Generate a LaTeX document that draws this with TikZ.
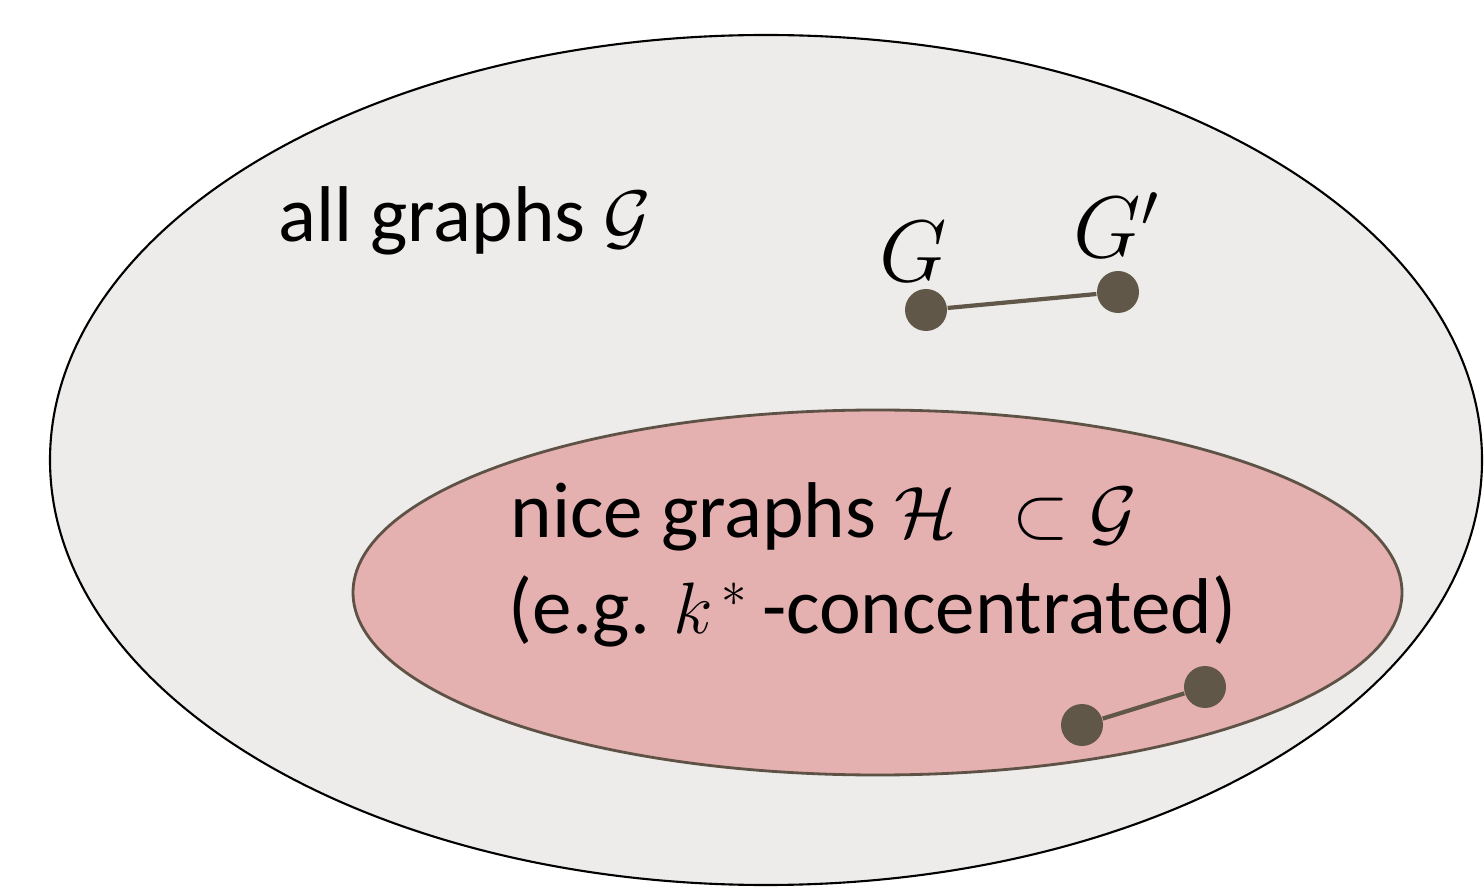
\documentclass[tikz,border=0pt]{standalone}
\usepackage{fontspec}
\setmainfont{Carlito}
\usetikzlibrary{positioning}
\definecolor{mist}{RGB}{237,236,234}
\definecolor{rose}{RGB}{228,176,176}
\definecolor{umber}{RGB}{94,82,70}
\definecolor{pebble}{RGB}{97,87,72}
\tikzset{
  vertex/.style={circle,fill=pebble,inner sep=0pt,minimum size=4.2mm},
  edge/.style={draw=pebble,line width=1.2pt},
  lbl/.style={font=\fontsize{22.5}{27}\selectfont,inner sep=0pt,anchor=base west},
  vlbl/.style={font=\fontsize{24}{29}\selectfont,inner sep=0pt,anchor=base west},
}
\begin{document}
\begin{tikzpicture}
  \useasboundingbox (0,0) rectangle (14.84,8.86);
  % the two sets
  \draw[fill=mist,line width=0.6pt] (7.66,4.26) ellipse [x radius=7.16,y radius=4.25];
  \draw[fill=rose,draw=umber,line width=0.8pt] (8.775,2.935) ellipse [x radius=5.245,y radius=1.825];
  \node[lbl] (all) at (2.78,6.44) {all graphs $\mathcal{G}$};
  \node[lbl] (nice) at (5.10,3.48) {nice graphs $\mathcal{H}\ \ \subset\mathcal{G}$};
  \node[lbl] (eg) at (5.08,2.53) {(e.g. $k^{\,*}$\,-concentrated)};
  % a pair of graphs outside, a pair inside
  \node[vertex] (g) at (9.26,5.76) {};
  \node[vertex] (gp) at (11.18,5.94) {};
  \node[vlbl] (glbl) at (8.79,6.04) {$G$};
  \node[vlbl] (gplbl) at (10.73,6.28) {$G'$};
  \draw[edge] (g) -- (gp);
  \node[vertex] (h) at (10.82,1.61) {};
  \node[vertex] (hp) at (12.05,1.99) {};
  \draw[edge] (h) -- (hp);
\end{tikzpicture}
\end{document}
